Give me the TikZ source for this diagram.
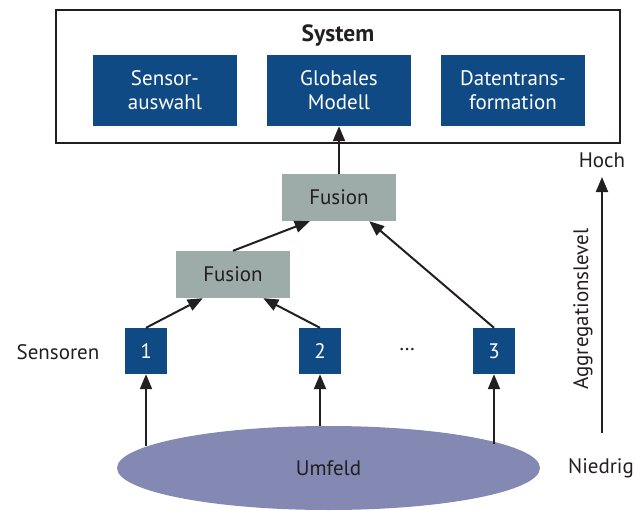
\documentclass[tikz,border=0pt]{standalone}
\usepackage{fontspec}
\setmainfont{PT Sans}
\usetikzlibrary{arrows.meta,shapes.geometric}
\definecolor{sysblau}{HTML}{104A85}
\definecolor{fusgrau}{HTML}{9DABA9}
\definecolor{umfeldblau}{HTML}{8389B2}
\definecolor{tinte}{HTML}{231F20}
\tikzset{
  modul/.style={fill=sysblau,text=white,align=center,inner sep=0pt,
    minimum width=144pt,minimum height=71pt},
  fusbox/.style={fill=fusgrau,inner sep=0pt,minimum width=114pt,minimum height=47pt},
  sensbox/.style={fill=sysblau,text=white,inner sep=0pt,minimum width=42pt,minimum height=46pt},
  pfeil/.style={draw=tinte,line width=2pt,-{Triangle[length=15pt,width=12pt]}}
}
\begin{document}
\begin{tikzpicture}[x=1pt,y=-1pt,font=\fontsize{21}{24}\selectfont,text=tinte]
  \useasboundingbox (0,0) rectangle (635,511);
  % System
  \node[draw=tinte,line width=2.5pt,minimum width=564pt,minimum height=133pt,inner sep=0pt]
    (system) at (338,76.5) {};
  \node[font=\fontsize{23.5}{26}\selectfont\bfseries] (systitel) at (338,36) {System};
  \node[modul] (auswahl) at (165,90.5) {Sensor-\\auswahl};
  \node[modul] (modell) at (339,90.5) {Globales\\Modell};
  \node[modul] (transform) at (513,90.5) {Datentrans-\\formation};
  % Fusion
  \node[fusbox] (fus2) at (339,197.5) {Fusion};
  \node[fusbox] (fus1) at (233,274.5) {Fusion};
  % Sensoren
  \node (senslabel) at (58,352) {Sensoren};
  \node[sensbox] (s1) at (146,351) {1};
  \node[sensbox] (s2) at (320,351) {2};
  \node (dots) at (407,350) {…};
  \node[sensbox] (s3) at (494,351) {3};
  % Umfeld
  \node[ellipse,fill=umfeldblau,inner sep=0pt,minimum width=423pt,minimum height=84pt]
    (umfeld) at (328.5,468) {Umfeld};
  % Pfeile
  \draw[pfeil]
    (s1 |- umfeld.173.4)
    --
    (s1.south);
  \draw[pfeil]
    (s2 |- umfeld.north)
    --
    (s2.south);
  \draw[pfeil]
    (s3 |- umfeld.8.9)
    --
    (s3.south);
  \draw[pfeil]
    (s1.north)
    --
    ([xshift=27pt]fus1.south west);
  \draw[pfeil]
    (s2.north)
    --
    ([xshift=-27pt]fus1.south east);
  \draw[pfeil]
    (fus1.north)
    --
    ([xshift=28pt]fus2.south west);
  \draw[pfeil]
    (s3.north)
    --
    ([xshift=-27pt]fus2.south east);
  \draw[pfeil]
    (fus2.north)
    --
    (modell.south);
  % Aggregationslevel
  \node (hoch) at (602,160) {Hoch};
  \node (niedrig) at (601,468) {Niedrig};
  \coordinate (aggunten) at (602,433);
  \coordinate (aggoben) at (602,177);
  \draw[pfeil]
    (aggunten)
    --
    (aggoben);
  \node[rotate=90] (agglabel) at (583,309) {Aggregationslevel};
\end{tikzpicture}
\end{document}
